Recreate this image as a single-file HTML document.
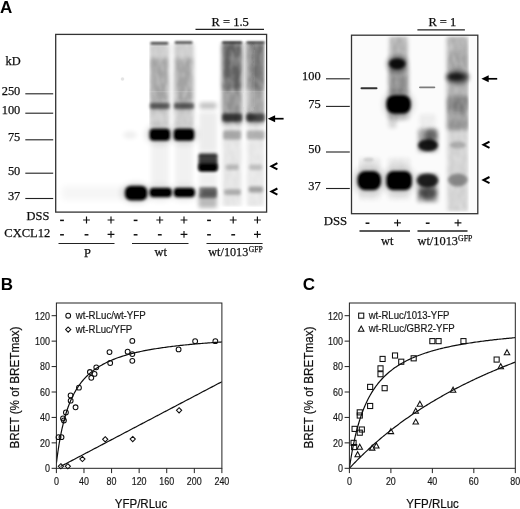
<!DOCTYPE html>
<html><head><meta charset="utf-8"><title>Figure</title>
<style>
html,body{margin:0;padding:0;background:#fff;}
body{width:520px;height:509px;overflow:hidden;}
svg{display:block;}
.se{font-family:"Liberation Serif",serif;font-size:12.4px;fill:#111;stroke:#111;stroke-width:0.25px;}
.sa{font-family:"Liberation Sans",sans-serif;fill:#111;}
.pl{font-family:"Liberation Sans",sans-serif;font-weight:bold;font-size:17px;fill:#000;}
.tk{font-family:"Liberation Sans",sans-serif;font-size:11px;fill:#1a1a1a;stroke:#1a1a1a;stroke-width:0.2px;}
.lg{font-family:"Liberation Sans",sans-serif;font-size:10px;fill:#1a1a1a;stroke:#1a1a1a;stroke-width:0.2px;}
.ax{font-family:"Liberation Sans",sans-serif;font-size:12.2px;fill:#111;stroke:#111;stroke-width:0.2px;}
</style></head><body>
<svg width="520" height="509" viewBox="0 0 520 509">
<defs>
<filter id="b1" x="-50%" y="-50%" width="200%" height="200%"><feGaussianBlur stdDeviation="1.1"/></filter>
<filter id="b2" x="-50%" y="-50%" width="200%" height="200%"><feGaussianBlur stdDeviation="2"/></filter>
<filter id="b3" x="-50%" y="-50%" width="200%" height="200%"><feGaussianBlur stdDeviation="3.2"/></filter>
<filter id="b15" x="-50%" y="-50%" width="200%" height="200%"><feGaussianBlur stdDeviation="1.5"/></filter>
<filter id="nz" x="0" y="0" width="100%" height="100%"><feTurbulence type="fractalNoise" baseFrequency="0.2 0.09" numOctaves="2" seed="7" result="t"/><feColorMatrix in="t" type="matrix" values="0 0 0 0 0  0 0 0 0 0  0 0 0 0 0  0.6 0 0 0 0.62" result="a"/><feGaussianBlur in="a" stdDeviation="0.8" result="ab"/><feComposite in="SourceGraphic" in2="ab" operator="in"/></filter>
<filter id="b05" x="-50%" y="-50%" width="200%" height="200%"><feGaussianBlur stdDeviation="0.6"/></filter>
<filter id="soft" x="-5%" y="-5%" width="110%" height="110%"><feGaussianBlur stdDeviation="0.35"/></filter>
<clipPath id="c1"><rect x="55.7" y="34.4" width="210.8" height="177.9"/></clipPath>
<clipPath id="c2"><rect x="351.5" y="35.2" width="126.3" height="178.5"/></clipPath>
</defs>
<rect width="520" height="509" fill="#fff"/>

<g clip-path="url(#c1)">
<g filter="url(#nz)">
<rect x="149.0" y="43.0" width="20.4" height="84.0" rx="2" fill="#000" opacity="0.2" filter="url(#b2)"/>
<rect x="150.5" y="58.0" width="17.4" height="42.0" rx="2" fill="#000" opacity="0.2" filter="url(#b2)"/>
<rect x="150.0" y="98.0" width="18.4" height="14.0" rx="2" fill="#000" opacity="0.1" filter="url(#b2)"/>
<rect x="173.9" y="43.0" width="20.0" height="84.0" rx="2" fill="#000" opacity="0.2" filter="url(#b2)"/>
<rect x="175.4" y="58.0" width="17.0" height="42.0" rx="2" fill="#000" opacity="0.2" filter="url(#b2)"/>
<rect x="174.9" y="98.0" width="18.0" height="14.0" rx="2" fill="#000" opacity="0.1" filter="url(#b2)"/>
<rect x="222.1" y="41.0" width="20.0" height="83.0" rx="2" fill="#000" opacity="0.43" filter="url(#b2)"/>
<rect x="222.6" y="44.0" width="19.0" height="46.0" rx="2" fill="#000" opacity="0.34" filter="url(#b2)"/>
<rect x="222.6" y="122.0" width="19.0" height="85.0" rx="2" fill="#000" opacity="0.11" filter="url(#b2)"/>
<rect x="246.4" y="41.0" width="18.4" height="83.0" rx="2" fill="#000" opacity="0.3784" filter="url(#b2)"/>
<rect x="246.9" y="44.0" width="17.4" height="46.0" rx="2" fill="#000" opacity="0.2992" filter="url(#b2)"/>
<rect x="246.9" y="122.0" width="17.4" height="85.0" rx="2" fill="#000" opacity="0.0968" filter="url(#b2)"/>
<rect x="246.5" y="45.0" width="5.5" height="65.0" rx="2" fill="#fff" opacity="0.25" filter="url(#b2)"/>
</g>
<rect x="148.0" y="91.0" width="118.0" height="1.3" rx="0" fill="#fff" opacity="0.13" filter="url(#b05)"/>
<rect x="62.0" y="186.0" width="64.0" height="14.0" rx="2" fill="#000" opacity="0.035" filter="url(#b3)"/>
<ellipse cx="122.5" cy="79.0" rx="1.8" ry="1.8" fill="#000" opacity="0.1" filter="url(#b05)"/>
<ellipse cx="130.0" cy="135.0" rx="7.0" ry="4.0" fill="#000" opacity="0.06" filter="url(#b2)"/>
<ellipse cx="136.0" cy="193.0" rx="15.0" ry="10.0" fill="#000" opacity="0.15" filter="url(#b3)"/>
<rect x="124.9" y="185.8" width="22.4" height="14.7" rx="6" fill="#000" opacity="1" filter="url(#b15)"/>
<rect x="127.3" y="188.3" width="17.7" height="9.7" rx="4" fill="#000" opacity="1" filter="url(#b05)"/>
<rect x="150.5" y="41.9" width="17.8" height="2.6" rx="1" fill="#000" opacity="0.7" filter="url(#b1)"/>
<rect x="149.8" y="102.7" width="20.0" height="6.3" rx="2" fill="#000" opacity="0.55" filter="url(#b15)"/>
<rect x="149.5" y="128.5" width="20.6" height="12.3" rx="4" fill="#000" opacity="1" filter="url(#b15)"/>
<rect x="151.5" y="131.0" width="16.6" height="7.5" rx="3" fill="#000" opacity="1" filter="url(#b05)"/>
<ellipse cx="159.8" cy="134.5" rx="14.0" ry="10.0" fill="#000" opacity="0.14" filter="url(#b3)"/>
<rect x="149.5" y="187.8" width="22.4" height="9.5" rx="4" fill="#000" opacity="1" filter="url(#b15)"/>
<rect x="151.5" y="190.0" width="18.1" height="5.3" rx="2.5" fill="#000" opacity="1" filter="url(#b05)"/>
<ellipse cx="159.8" cy="192.5" rx="14.0" ry="8.0" fill="#000" opacity="0.1" filter="url(#b3)"/>
<rect x="150.8" y="142.0" width="18.0" height="44.0" rx="2" fill="#000" opacity="0.05" filter="url(#b2)"/>
<rect x="174.7" y="41.2" width="17.8" height="2.6" rx="1" fill="#000" opacity="0.7" filter="url(#b1)"/>
<rect x="174.0" y="102.7" width="20.0" height="6.3" rx="2" fill="#000" opacity="0.55" filter="url(#b15)"/>
<rect x="173.7" y="128.5" width="20.6" height="12.3" rx="4" fill="#000" opacity="1" filter="url(#b15)"/>
<rect x="175.7" y="131.0" width="16.6" height="7.5" rx="3" fill="#000" opacity="1" filter="url(#b05)"/>
<ellipse cx="184.0" cy="134.5" rx="14.0" ry="10.0" fill="#000" opacity="0.14" filter="url(#b3)"/>
<rect x="173.7" y="187.8" width="21.3" height="9.5" rx="4" fill="#000" opacity="1" filter="url(#b15)"/>
<rect x="175.7" y="190.0" width="17.0" height="5.3" rx="2.5" fill="#000" opacity="1" filter="url(#b05)"/>
<ellipse cx="184.0" cy="192.5" rx="14.0" ry="8.0" fill="#000" opacity="0.1" filter="url(#b3)"/>
<rect x="175.0" y="142.0" width="18.0" height="44.0" rx="2" fill="#000" opacity="0.05" filter="url(#b2)"/>
<rect x="199.5" y="102.5" width="17.0" height="6.5" rx="2" fill="#000" opacity="0.24" filter="url(#b2)"/>
<rect x="198.5" y="153.3" width="19.0" height="17.7" rx="2" fill="#000" opacity="0.72" filter="url(#b15)"/>
<rect x="199.0" y="155.0" width="18.0" height="2.5" rx="2" fill="#000" opacity="0.3" filter="url(#b1)"/>
<rect x="199.0" y="159.5" width="18.0" height="2.0" rx="2" fill="#000" opacity="0.3" filter="url(#b1)"/>
<rect x="198.5" y="163.0" width="19.0" height="8.2" rx="3" fill="#000" opacity="0.9" filter="url(#b15)"/>
<rect x="200.5" y="165.3" width="15.0" height="4.5" rx="2" fill="#000" opacity="0.9" filter="url(#b05)"/>
<rect x="199.0" y="187.0" width="18.0" height="11.0" rx="2" fill="#000" opacity="0.5" filter="url(#b15)"/>
<rect x="202.0" y="189.0" width="15.0" height="6.0" rx="2" fill="#000" opacity="0.25" filter="url(#b15)"/>
<rect x="199.0" y="112.0" width="18.0" height="40.0" rx="2" fill="#000" opacity="0.07" filter="url(#b2)"/>
<rect x="199.0" y="172.0" width="18.0" height="15.0" rx="2" fill="#000" opacity="0.06" filter="url(#b2)"/>
<rect x="198.5" y="194.0" width="18.5" height="14.0" rx="2" fill="#000" opacity="0.27" filter="url(#b2)"/>
<rect x="222.1" y="41.2" width="20.0" height="2.6" rx="1" fill="#000" opacity="0.7" filter="url(#b1)"/>
<rect x="222.1" y="113.5" width="20.0" height="8.0" rx="2" fill="#000" opacity="0.66" filter="url(#b15)"/>
<rect x="223.1" y="130.5" width="18.0" height="9.0" rx="2" fill="#000" opacity="0.27" filter="url(#b15)"/>
<rect x="225.6" y="164.5" width="13.0" height="5.5" rx="2" fill="#000" opacity="0.2" filter="url(#b15)"/>
<rect x="246.4" y="41.2" width="18.4" height="2.6" rx="1" fill="#000" opacity="0.616" filter="url(#b1)"/>
<rect x="246.4" y="113.5" width="18.4" height="8.0" rx="2" fill="#000" opacity="0.5808" filter="url(#b15)"/>
<rect x="246.6" y="130.5" width="18.0" height="9.0" rx="2" fill="#000" opacity="0.2376" filter="url(#b15)"/>
<rect x="249.1" y="164.5" width="13.0" height="5.5" rx="2" fill="#000" opacity="0.17600000000000002" filter="url(#b15)"/>
<rect x="224.0" y="189.3" width="17.0" height="5.7" rx="2" fill="#000" opacity="0.25" filter="url(#b15)"/>
<rect x="248.6" y="186.5" width="14.4" height="6.0" rx="2" fill="#000" opacity="0.3" filter="url(#b15)"/>
<ellipse cx="251.0" cy="117.3" rx="5.0" ry="3.5" fill="#000" opacity="0.3" filter="url(#b15)"/>
</g>
<rect x="55.7" y="34.4" width="210.9" height="177.7" fill="none" stroke="#333" stroke-width="1.3"/>
<g filter="url(#soft)">
<text class="pl" x="0" y="12.5">A</text>
<text class="se" x="5.5" y="65">kD</text>
<text class="se" x="20.3" y="95" text-anchor="end">250</text>
<line x1="25.3" x2="53.2" y1="93.8" y2="93.8" stroke="#222" stroke-width="1.1"/>
<text class="se" x="20.3" y="113.6" text-anchor="end">100</text>
<line x1="25.3" x2="53.2" y1="113.2" y2="113.2" stroke="#222" stroke-width="1.1"/>
<text class="se" x="20.3" y="140.6" text-anchor="end">75</text>
<line x1="25.3" x2="53.2" y1="139.8" y2="139.8" stroke="#222" stroke-width="1.1"/>
<text class="se" x="20.3" y="174.5" text-anchor="end">50</text>
<line x1="25.3" x2="53.2" y1="173.2" y2="173.2" stroke="#222" stroke-width="1.1"/>
<text class="se" x="20.3" y="199.7" text-anchor="end">37</text>
<line x1="25.3" x2="53.2" y1="198.5" y2="198.5" stroke="#222" stroke-width="1.1"/>
<text class="se" x="49.3" y="220.2" text-anchor="end">DSS</text>
<text class="se" x="4.3" y="236.9" textLength="46" lengthAdjust="spacingAndGlyphs">CXCL12</text>
<line x1="60.1" x2="63.9" y1="220.4" y2="220.4" stroke="#111" stroke-width="1.5"/>
<line x1="60.1" x2="63.9" y1="234.8" y2="234.8" stroke="#111" stroke-width="1.5"/>
<path d="M83.1 220.0H89.9M86.5 216.6V223.4" stroke="#111" stroke-width="1.15" fill="none"/>
<line x1="84.6" x2="88.4" y1="234.8" y2="234.8" stroke="#111" stroke-width="1.5"/>
<path d="M107.6 220.0H114.4M111 216.6V223.4" stroke="#111" stroke-width="1.15" fill="none"/>
<path d="M107.6 234.4H114.4M111 231.0V237.8" stroke="#111" stroke-width="1.15" fill="none"/>
<line x1="133.7" x2="137.5" y1="220.4" y2="220.4" stroke="#111" stroke-width="1.5"/>
<line x1="133.7" x2="137.5" y1="234.8" y2="234.8" stroke="#111" stroke-width="1.5"/>
<path d="M156.4 220.0H163.20000000000002M159.8 216.6V223.4" stroke="#111" stroke-width="1.15" fill="none"/>
<line x1="157.9" x2="161.70000000000002" y1="234.8" y2="234.8" stroke="#111" stroke-width="1.5"/>
<path d="M180.6 220.0H187.4M184 216.6V223.4" stroke="#111" stroke-width="1.15" fill="none"/>
<path d="M180.6 234.4H187.4M184 231.0V237.8" stroke="#111" stroke-width="1.15" fill="none"/>
<line x1="207.1" x2="210.9" y1="220.4" y2="220.4" stroke="#111" stroke-width="1.5"/>
<line x1="207.1" x2="210.9" y1="234.8" y2="234.8" stroke="#111" stroke-width="1.5"/>
<path d="M229.79999999999998 220.0H236.6M233.2 216.6V223.4" stroke="#111" stroke-width="1.15" fill="none"/>
<line x1="231.29999999999998" x2="235.1" y1="234.8" y2="234.8" stroke="#111" stroke-width="1.5"/>
<path d="M253.99999999999997 220.0H260.79999999999995M257.4 216.6V223.4" stroke="#111" stroke-width="1.15" fill="none"/>
<path d="M253.99999999999997 234.4H260.79999999999995M257.4 231.0V237.8" stroke="#111" stroke-width="1.15" fill="none"/>
<line x1="58.5" x2="114.5" y1="243.5" y2="243.5" stroke="#222" stroke-width="1"/>
<line x1="132" x2="188.5" y1="243.5" y2="243.5" stroke="#222" stroke-width="1"/>
<line x1="206.5" x2="262.6" y1="243.5" y2="243.5" stroke="#222" stroke-width="1"/>
<text class="se" x="87.4" y="256.6" text-anchor="middle">P</text>
<text class="se" x="160.8" y="256.4" text-anchor="middle">wt</text>
<text class="se" x="208.3" y="256.3" textLength="40" lengthAdjust="spacingAndGlyphs">wt/1013</text><text class="se" x="248.8" y="252" style="font-size:7.6px">GFP</text>
<text class="se" x="211.5" y="25.5" style="font-size:12.5px">R = 1.5</text>
<line x1="195.5" x2="264" y1="29.4" y2="29.4" stroke="#222" stroke-width="1.2"/>
<path d="M267.8 118.7L275.1 115.2L275.1 122.2Z" fill="#000"/>
<line x1="273.8" x2="283.6" y1="118.7" y2="118.7" stroke="#000" stroke-width="1.7"/>
<path d="M277.40000000000003 163.20000000000002L271.40000000000003 166.3L277.40000000000003 169.4" fill="none" stroke="#000" stroke-width="2" stroke-linejoin="miter"/>
<path d="M277.40000000000003 188.5L271.40000000000003 191.6L277.40000000000003 194.7" fill="none" stroke="#000" stroke-width="2" stroke-linejoin="miter"/>
</g>
<g clip-path="url(#c2)">
<rect x="351" y="35" width="127" height="179" fill="#fbfbfb"/>
<g filter="url(#nz)">
<rect x="389.5" y="36.0" width="18.0" height="59.0" rx="2" fill="#000" opacity="0.3" filter="url(#b2)"/>
<rect x="388.0" y="68.0" width="21.0" height="52.0" rx="2" fill="#000" opacity="0.2" filter="url(#b2)"/>
<rect x="388.5" y="112.0" width="8.0" height="16.0" rx="2" fill="#000" opacity="0.15" filter="url(#b2)"/>
<rect x="446.8" y="36.0" width="22.0" height="94.0" rx="2" fill="#000" opacity="0.3" filter="url(#b2)"/>
<rect x="448.8" y="50.0" width="18.0" height="20.0" rx="2" fill="#000" opacity="0.08" filter="url(#b2)"/>
<rect x="447.3" y="96.5" width="21.0" height="14.5" rx="2" fill="#000" opacity="0.3" filter="url(#b2)"/>
<rect x="447.3" y="110.0" width="21.0" height="102.0" rx="2" fill="#000" opacity="0.17" filter="url(#b2)"/>
<rect x="418.0" y="129.0" width="19.5" height="23.0" rx="2" fill="#000" opacity="0.36" filter="url(#b2)"/>
<rect x="427.5" y="128.0" width="10.0" height="18.0" rx="2" fill="#000" opacity="0.15" filter="url(#b2)"/>
<rect x="417.5" y="174.0" width="20.0" height="28.0" rx="2" fill="#000" opacity="0.4" filter="url(#b2)"/>
<rect x="419.5" y="114.0" width="16.0" height="16.0" rx="2" fill="#000" opacity="0.06" filter="url(#b2)"/>
<rect x="358.2" y="158.0" width="22.0" height="14.0" rx="2" fill="#000" opacity="0.08" filter="url(#b2)"/>
<rect x="358.2" y="190.0" width="22.0" height="10.0" rx="2" fill="#000" opacity="0.06" filter="url(#b2)"/>
<rect x="388.1" y="158.0" width="22.0" height="14.0" rx="2" fill="#000" opacity="0.08" filter="url(#b2)"/>
<rect x="388.1" y="190.0" width="22.0" height="10.0" rx="2" fill="#000" opacity="0.06" filter="url(#b2)"/>
</g>
<rect x="357.4" y="171.0" width="23.6" height="19.3" rx="8" fill="#000" opacity="1" filter="url(#b15)"/>
<rect x="359.7" y="173.5" width="19.0" height="14.3" rx="6" fill="#000" opacity="1" filter="url(#b05)"/>
<ellipse cx="369.2" cy="180.6" rx="17.0" ry="15.0" fill="#000" opacity="0.13" filter="url(#b3)"/>
<rect x="360.5" y="87.3" width="17.0" height="2.0" rx="1" fill="#000" opacity="0.8" filter="url(#b05)"/>
<ellipse cx="368.5" cy="159.5" rx="5.0" ry="2.0" fill="#000" opacity="0.12" filter="url(#b1)"/>
<ellipse cx="397.2" cy="63.8" rx="8.3" ry="5.6" fill="#000" opacity="0.9" filter="url(#b15)"/>
<ellipse cx="397.2" cy="64.0" rx="11.0" ry="9.5" fill="#000" opacity="0.3" filter="url(#b2)"/>
<rect x="386.3" y="95.0" width="24.5" height="18.8" rx="8" fill="#000" opacity="1" filter="url(#b15)"/>
<rect x="388.6" y="97.5" width="19.8" height="13.8" rx="6" fill="#000" opacity="1" filter="url(#b05)"/>
<ellipse cx="398.6" cy="104.3" rx="15.0" ry="14.0" fill="#000" opacity="0.18" filter="url(#b3)"/>
<rect x="386.3" y="171.0" width="25.6" height="19.3" rx="7" fill="#000" opacity="1" filter="url(#b15)"/>
<rect x="388.6" y="173.5" width="21.0" height="14.3" rx="5" fill="#000" opacity="1" filter="url(#b05)"/>
<ellipse cx="399.1" cy="180.6" rx="17.0" ry="15.0" fill="#000" opacity="0.13" filter="url(#b3)"/>
<rect x="419.0" y="86.5" width="16.3" height="1.7" rx="1" fill="#000" opacity="0.5" filter="url(#b05)"/>
<ellipse cx="428.0" cy="145.3" rx="10.0" ry="6.0" fill="#000" opacity="0.88" filter="url(#b15)"/>
<ellipse cx="430.5" cy="136.0" rx="6.5" ry="6.0" fill="#000" opacity="0.35" filter="url(#b2)"/>
<ellipse cx="427.5" cy="180.5" rx="10.8" ry="7.0" fill="#000" opacity="0.82" filter="url(#b15)"/>
<ellipse cx="428.0" cy="193.0" rx="9.0" ry="6.0" fill="#000" opacity="0.55" filter="url(#b2)"/>
<ellipse cx="457.3" cy="77.0" rx="11.0" ry="5.2" fill="#000" opacity="0.62" filter="url(#b2)"/>
<ellipse cx="455.8" cy="76.6" rx="7.0" ry="3.0" fill="#000" opacity="0.5" filter="url(#b15)"/>
<ellipse cx="457.8" cy="77.0" rx="12.0" ry="9.0" fill="#000" opacity="0.2" filter="url(#b2)"/>
<ellipse cx="457.8" cy="145.0" rx="8.0" ry="3.5" fill="#000" opacity="0.2" filter="url(#b15)"/>
<ellipse cx="457.8" cy="180.0" rx="10.0" ry="6.5" fill="#000" opacity="0.36" filter="url(#b15)"/>
</g>
<rect x="351.5" y="35.2" width="126.3" height="178.5" fill="none" stroke="#333" stroke-width="1.3"/>
<g filter="url(#soft)">
<text class="se" x="320.6" y="79.6" text-anchor="end">100</text>
<line x1="326" x2="349.8" y1="78.8" y2="78.8" stroke="#222" stroke-width="1.1"/>
<text class="se" x="320.6" y="107.6" text-anchor="end">75</text>
<line x1="326" x2="349.8" y1="106.4" y2="106.4" stroke="#222" stroke-width="1.1"/>
<text class="se" x="320.6" y="152.9" text-anchor="end">50</text>
<line x1="326" x2="349.8" y1="152" y2="152" stroke="#222" stroke-width="1.1"/>
<text class="se" x="320.6" y="189.5" text-anchor="end">37</text>
<line x1="326" x2="349.8" y1="188.5" y2="188.5" stroke="#222" stroke-width="1.1"/>
<text class="se" x="347.2" y="225" text-anchor="end" style="font-size:12.8px">DSS</text>
<line x1="365.6" x2="369.4" y1="223.20000000000002" y2="223.20000000000002" stroke="#111" stroke-width="1.5"/>
<path d="M394.1 222.8H400.9M397.5 219.4V226.20000000000002" stroke="#111" stroke-width="1.15" fill="none"/>
<line x1="425.8" x2="429.59999999999997" y1="223.20000000000002" y2="223.20000000000002" stroke="#111" stroke-width="1.5"/>
<path d="M454.6 222.8H461.4M458 219.4V226.20000000000002" stroke="#111" stroke-width="1.15" fill="none"/>
<line x1="359.5" x2="410" y1="231" y2="231" stroke="#222" stroke-width="1.3"/>
<line x1="417.5" x2="467.5" y1="231" y2="231" stroke="#222" stroke-width="1.3"/>
<text class="se" x="387.2" y="245" text-anchor="middle">wt</text>
<text class="se" x="417.5" y="245" textLength="40.5" lengthAdjust="spacingAndGlyphs">wt/1013</text><text class="se" x="458" y="240.6" style="font-size:7.8px">GFP</text>
<text class="se" x="428.4" y="26" style="font-size:12.5px">R = 1</text>
<line x1="417.4" x2="464.9" y1="29.8" y2="29.8" stroke="#222" stroke-width="1.2"/>
<path d="M481.4 78.8L488.7 75.3L488.7 82.3Z" fill="#000"/>
<line x1="487.4" x2="497.2" y1="78.8" y2="78.8" stroke="#000" stroke-width="1.7"/>
<path d="M489.5 141.70000000000002L483.5 144.8L489.5 147.9" fill="none" stroke="#000" stroke-width="2" stroke-linejoin="miter"/>
<path d="M489.5 177.0L483.5 180.1L489.5 183.2" fill="none" stroke="#000" stroke-width="2" stroke-linejoin="miter"/>
</g>
<g filter="url(#soft)">
<text class="pl" x="0.7" y="289.7">B</text>
<clipPath id="ccB"><rect x="56.4" y="303" width="165.5" height="165.3"/></clipPath>
<path d="M56.40 463.21L57.78 452.70L59.16 443.72L60.54 435.97L61.92 429.22L63.30 423.27L64.67 418.00L66.05 413.29L67.43 409.06L68.81 405.24L70.19 401.77L71.57 398.61L72.95 395.72L74.33 393.06L75.71 390.61L77.09 388.34L78.47 386.24L79.85 384.29L81.22 382.46L82.60 380.76L83.98 379.16L85.36 377.66L86.74 376.25L88.12 374.92L89.50 373.67L90.88 372.48L92.26 371.36L93.64 370.29L95.02 369.28L96.40 368.32L97.78 367.40L99.15 366.53L100.53 365.70L101.91 364.90L103.29 364.14L104.67 363.42L106.05 362.72L107.43 362.05L108.81 361.41L110.19 360.79L111.57 360.20L112.95 359.63L114.32 359.08L115.70 358.55L117.08 358.04L118.46 357.55L119.84 357.08L121.22 356.62L122.60 356.18L123.98 355.75L125.36 355.33L126.74 354.93L128.12 354.54L129.50 354.17L130.88 353.80L132.25 353.45L133.63 353.10L135.01 352.77L136.39 352.45L137.77 352.13L139.15 351.82L140.53 351.53L141.91 351.24L143.29 350.96L144.67 350.68L146.05 350.41L147.43 350.15L148.80 349.90L150.18 349.65L151.56 349.41L152.94 349.18L154.32 348.95L155.70 348.72L157.08 348.50L158.46 348.29L159.84 348.08L161.22 347.88L162.60 347.68L163.97 347.48L165.35 347.29L166.73 347.11L168.11 346.92L169.49 346.74L170.87 346.57L172.25 346.40L173.63 346.23L175.01 346.07L176.39 345.91L177.77 345.75L179.15 345.59L180.53 345.44L181.90 345.29L183.28 345.15L184.66 345.00L186.04 344.86L187.42 344.73L188.80 344.59L190.18 344.46L191.56 344.33L192.94 344.20L194.32 344.08L195.70 343.95L197.08 343.83L198.45 343.71L199.83 343.60L201.21 343.48L202.59 343.37L203.97 343.26L205.35 343.15L206.73 343.04L208.11 342.94L209.49 342.83L210.87 342.73L212.25 342.63L213.62 342.53L215.00 342.43L216.38 342.34L217.76 342.24L219.14 342.15L220.52 342.06L221.90 341.97" fill="none" stroke="#111" stroke-width="1.2" clip-path="url(#ccB)"/>
<path d="M60.54 466.51L61.88 465.80L63.23 465.09L64.57 464.39L65.92 463.68L67.26 462.97L68.61 462.27L69.95 461.56L71.30 460.85L72.64 460.15L73.98 459.44L75.33 458.73L76.67 458.03L78.02 457.32L79.36 456.61L80.71 455.91L82.05 455.20L83.40 454.49L84.74 453.79L86.09 453.08L87.43 452.37L88.78 451.67L90.12 450.96L91.47 450.25L92.81 449.55L94.15 448.84L95.50 448.13L96.84 447.43L98.19 446.72L99.53 446.01L100.88 445.31L102.22 444.60L103.57 443.89L104.91 443.18L106.26 442.48L107.60 441.77L108.95 441.06L110.29 440.36L111.64 439.65L112.98 438.94L114.32 438.24L115.67 437.53L117.01 436.82L118.36 436.12L119.70 435.41L121.05 434.70L122.39 434.00L123.74 433.29L125.08 432.58L126.43 431.88L127.77 431.17L129.12 430.46L130.46 429.76L131.81 429.05L133.15 428.34L134.50 427.64L135.84 426.93L137.18 426.22L138.53 425.52L139.87 424.81L141.22 424.10L142.56 423.40L143.91 422.69L145.25 421.98L146.60 421.28L147.94 420.57L149.29 419.86L150.63 419.16L151.98 418.45L153.32 417.74L154.67 417.04L156.01 416.33L157.35 415.62L158.70 414.92L160.04 414.21L161.39 413.50L162.73 412.80L164.08 412.09L165.42 411.38L166.77 410.68L168.11 409.97L169.46 409.26L170.80 408.56L172.15 407.85L173.49 407.14L174.84 406.44L176.18 405.73L177.53 405.02L178.87 404.31L180.21 403.61L181.56 402.90L182.90 402.19L184.25 401.49L185.59 400.78L186.94 400.07L188.28 399.37L189.63 398.66L190.97 397.95L192.32 397.25L193.66 396.54L195.01 395.83L196.35 395.13L197.70 394.42L199.04 393.71L200.39 393.01L201.73 392.30L203.07 391.59L204.42 390.89L205.76 390.18L207.11 389.47L208.45 388.77L209.80 388.06L211.14 387.35L212.49 386.65L213.83 385.94L215.18 385.23L216.52 384.53L217.87 383.82L219.21 383.11L220.56 382.41L221.90 381.70" fill="none" stroke="#111" stroke-width="1.2" clip-path="url(#ccB)"/>
<rect x="56.4" y="303" width="165.5" height="165.3" fill="none" stroke="#222" stroke-width="1"/>
<line x1="51.6" x2="56.4" y1="468.30" y2="468.30" stroke="#222" stroke-width="1"/>
<text class="tk" x="49.9" y="472.20" text-anchor="end" textLength="5.0" lengthAdjust="spacingAndGlyphs">0</text>
<line x1="51.6" x2="56.4" y1="442.87" y2="442.87" stroke="#222" stroke-width="1"/>
<text class="tk" x="49.9" y="446.77" text-anchor="end" textLength="9.9" lengthAdjust="spacingAndGlyphs">20</text>
<line x1="51.6" x2="56.4" y1="417.43" y2="417.43" stroke="#222" stroke-width="1"/>
<text class="tk" x="49.9" y="421.33" text-anchor="end" textLength="9.9" lengthAdjust="spacingAndGlyphs">40</text>
<line x1="51.6" x2="56.4" y1="392.00" y2="392.00" stroke="#222" stroke-width="1"/>
<text class="tk" x="49.9" y="395.90" text-anchor="end" textLength="9.9" lengthAdjust="spacingAndGlyphs">60</text>
<line x1="51.6" x2="56.4" y1="366.57" y2="366.57" stroke="#222" stroke-width="1"/>
<text class="tk" x="49.9" y="370.47" text-anchor="end" textLength="9.9" lengthAdjust="spacingAndGlyphs">80</text>
<line x1="51.6" x2="56.4" y1="341.13" y2="341.13" stroke="#222" stroke-width="1"/>
<text class="tk" x="49.9" y="345.03" text-anchor="end" textLength="14.9" lengthAdjust="spacingAndGlyphs">100</text>
<line x1="51.6" x2="56.4" y1="315.70" y2="315.70" stroke="#222" stroke-width="1"/>
<text class="tk" x="49.9" y="319.60" text-anchor="end" textLength="14.9" lengthAdjust="spacingAndGlyphs">120</text>
<line x1="56.40" x2="56.40" y1="468.3" y2="473.1" stroke="#222" stroke-width="1"/>
<text class="tk" x="56.40" y="485.3" text-anchor="middle" textLength="5.0" lengthAdjust="spacingAndGlyphs">0</text>
<line x1="83.98" x2="83.98" y1="468.3" y2="473.1" stroke="#222" stroke-width="1"/>
<text class="tk" x="83.98" y="485.3" text-anchor="middle" textLength="9.9" lengthAdjust="spacingAndGlyphs">40</text>
<line x1="111.57" x2="111.57" y1="468.3" y2="473.1" stroke="#222" stroke-width="1"/>
<text class="tk" x="111.57" y="485.3" text-anchor="middle" textLength="9.9" lengthAdjust="spacingAndGlyphs">80</text>
<line x1="139.15" x2="139.15" y1="468.3" y2="473.1" stroke="#222" stroke-width="1"/>
<text class="tk" x="139.15" y="485.3" text-anchor="middle" textLength="14.9" lengthAdjust="spacingAndGlyphs">120</text>
<line x1="166.73" x2="166.73" y1="468.3" y2="473.1" stroke="#222" stroke-width="1"/>
<text class="tk" x="166.73" y="485.3" text-anchor="middle" textLength="14.9" lengthAdjust="spacingAndGlyphs">160</text>
<line x1="194.32" x2="194.32" y1="468.3" y2="473.1" stroke="#222" stroke-width="1"/>
<text class="tk" x="194.32" y="485.3" text-anchor="middle" textLength="14.9" lengthAdjust="spacingAndGlyphs">200</text>
<line x1="221.90" x2="221.90" y1="468.3" y2="473.1" stroke="#222" stroke-width="1"/>
<text class="tk" x="221.90" y="485.3" text-anchor="middle" textLength="14.9" lengthAdjust="spacingAndGlyphs">240</text>
<path d="M60.88 463.67L63.48 466.27L60.88 468.87L58.28 466.27Z" fill="none" stroke="#111" stroke-width="1.05"/>
<path d="M67.85 463.67L70.45 466.27L67.85 468.87L65.25 466.27Z" fill="none" stroke="#111" stroke-width="1.05"/>
<path d="M82.40 456.42L85.00 459.02L82.40 461.62L79.80 459.02Z" fill="none" stroke="#111" stroke-width="1.05"/>
<path d="M105.22 436.71L107.82 439.31L105.22 441.91L102.62 439.31Z" fill="none" stroke="#111" stroke-width="1.05"/>
<path d="M132.74 436.45L135.34 439.05L132.74 441.65L130.14 439.05Z" fill="none" stroke="#111" stroke-width="1.05"/>
<path d="M179.08 407.71L181.68 410.31L179.08 412.91L176.48 410.31Z" fill="none" stroke="#111" stroke-width="1.05"/>
<circle cx="58.54" cy="437.14" r="2.4" fill="none" stroke="#111" stroke-width="1.05"/>
<circle cx="61.50" cy="437.14" r="2.4" fill="none" stroke="#111" stroke-width="1.05"/>
<circle cx="63.02" cy="418.45" r="2.4" fill="none" stroke="#111" stroke-width="1.05"/>
<circle cx="63.92" cy="420.49" r="2.4" fill="none" stroke="#111" stroke-width="1.05"/>
<circle cx="65.92" cy="412.47" r="2.4" fill="none" stroke="#111" stroke-width="1.05"/>
<circle cx="70.61" cy="395.43" r="2.4" fill="none" stroke="#111" stroke-width="1.05"/>
<circle cx="70.67" cy="400.65" r="2.4" fill="none" stroke="#111" stroke-width="1.05"/>
<circle cx="75.57" cy="407.26" r="2.4" fill="none" stroke="#111" stroke-width="1.05"/>
<circle cx="78.95" cy="387.68" r="2.4" fill="none" stroke="#111" stroke-width="1.05"/>
<circle cx="89.91" cy="372.03" r="2.4" fill="none" stroke="#111" stroke-width="1.05"/>
<circle cx="91.29" cy="377.76" r="2.4" fill="none" stroke="#111" stroke-width="1.05"/>
<circle cx="94.53" cy="373.94" r="2.4" fill="none" stroke="#111" stroke-width="1.05"/>
<circle cx="96.26" cy="367.33" r="2.4" fill="none" stroke="#111" stroke-width="1.05"/>
<circle cx="109.50" cy="352.07" r="2.4" fill="none" stroke="#111" stroke-width="1.05"/>
<circle cx="110.19" cy="363.01" r="2.4" fill="none" stroke="#111" stroke-width="1.05"/>
<circle cx="127.63" cy="351.69" r="2.4" fill="none" stroke="#111" stroke-width="1.05"/>
<circle cx="132.32" cy="340.88" r="2.4" fill="none" stroke="#111" stroke-width="1.05"/>
<circle cx="132.32" cy="354.10" r="2.4" fill="none" stroke="#111" stroke-width="1.05"/>
<circle cx="132.32" cy="360.84" r="2.4" fill="none" stroke="#111" stroke-width="1.05"/>
<circle cx="178.59" cy="349.40" r="2.4" fill="none" stroke="#111" stroke-width="1.05"/>
<circle cx="195.14" cy="341.13" r="2.4" fill="none" stroke="#111" stroke-width="1.05"/>
<circle cx="215.35" cy="341.13" r="2.4" fill="none" stroke="#111" stroke-width="1.05"/>
<circle cx="68.20" cy="315.70" r="2.4" fill="none" stroke="#111" stroke-width="1.05"/>
<path d="M68.20 327.00L70.80 329.60L68.20 332.20L65.60 329.60Z" fill="none" stroke="#111" stroke-width="1.05"/>
<text class="lg" x="75.7" y="319.00" textLength="70" lengthAdjust="spacingAndGlyphs">wt-RLuc/wt-YFP</text>
<text class="lg" x="75.7" y="332.80" textLength="56.5" lengthAdjust="spacingAndGlyphs">wt-RLuc/YFP</text>
<text class="ax" x="141" y="507.7" text-anchor="middle" textLength="52.5" lengthAdjust="spacingAndGlyphs">YFP/RLuc</text>
<text class="ax" transform="translate(19.0,387.6) rotate(-90)" text-anchor="middle" textLength="122" lengthAdjust="spacingAndGlyphs">BRET (% of BRETmax)</text>
</g>
<g filter="url(#soft)">
<text class="pl" x="302.7" y="289.7">C</text>
<clipPath id="ccC"><rect x="349.4" y="303" width="165.89999999999998" height="165.3"/></clipPath>
<path d="M349.40 468.30L350.78 459.24L352.16 451.23L353.55 444.10L354.93 437.71L356.31 431.95L357.69 426.73L359.08 421.98L360.46 417.64L361.84 413.66L363.22 409.99L364.61 406.60L365.99 403.46L367.37 400.55L368.75 397.83L370.14 395.29L371.52 392.92L372.90 390.69L374.28 388.59L375.67 386.62L377.05 384.76L378.43 383.00L379.81 381.34L381.20 379.76L382.58 378.27L383.96 376.85L385.34 375.49L386.73 374.20L388.11 372.98L389.49 371.80L390.88 370.68L392.26 369.61L393.64 368.58L395.02 367.59L396.40 366.65L397.79 365.74L399.17 364.87L400.55 364.03L401.93 363.22L403.32 362.45L404.70 361.70L406.08 360.97L407.46 360.28L408.85 359.60L410.23 358.95L411.61 358.32L412.99 357.71L414.38 357.13L415.76 356.55L417.14 356.00L418.52 355.47L419.91 354.95L421.29 354.44L422.67 353.95L424.05 353.48L425.44 353.02L426.82 352.57L428.20 352.13L429.58 351.71L430.97 351.29L432.35 350.89L433.73 350.50L435.11 350.12L436.50 349.75L437.88 349.39L439.26 349.03L440.64 348.69L442.03 348.35L443.41 348.02L444.79 347.70L446.17 347.39L447.56 347.09L448.94 346.79L450.32 346.49L451.70 346.21L453.09 345.93L454.47 345.66L455.85 345.39L457.23 345.13L458.62 344.87L460.00 344.62L461.38 344.38L462.76 344.14L464.15 343.90L465.53 343.67L466.91 343.45L468.29 343.23L469.68 343.01L471.06 342.80L472.44 342.59L473.82 342.38L475.21 342.18L476.59 341.99L477.97 341.79L479.35 341.60L480.74 341.42L482.12 341.23L483.50 341.05L484.88 340.88L486.27 340.70L487.65 340.53L489.03 340.36L490.41 340.20L491.80 340.04L493.18 339.88L494.56 339.72L495.94 339.57L497.33 339.42L498.71 339.27L500.09 339.12L501.47 338.98L502.86 338.83L504.24 338.69L505.62 338.56L507.00 338.42L508.39 338.29L509.77 338.16L511.15 338.03L512.53 337.90L513.92 337.77L515.30 337.65" fill="none" stroke="#111" stroke-width="1.2" clip-path="url(#ccC)"/>
<path d="M349.40 468.30L350.78 466.82L352.16 465.36L353.55 463.92L354.93 462.49L356.31 461.08L357.69 459.68L359.08 458.30L360.46 456.93L361.84 455.58L363.22 454.24L364.61 452.92L365.99 451.61L367.37 450.32L368.75 449.03L370.14 447.76L371.52 446.51L372.90 445.27L374.28 444.04L375.67 442.82L377.05 441.61L378.43 440.42L379.81 439.24L381.20 438.07L382.58 436.91L383.96 435.77L385.34 434.63L386.73 433.51L388.11 432.40L389.49 431.30L390.88 430.21L392.26 429.12L393.64 428.05L395.02 426.99L396.40 425.94L397.79 424.90L399.17 423.87L400.55 422.85L401.93 421.84L403.32 420.84L404.70 419.85L406.08 418.86L407.46 417.89L408.85 416.92L410.23 415.97L411.61 415.02L412.99 414.08L414.38 413.15L415.76 412.22L417.14 411.31L418.52 410.40L419.91 409.50L421.29 408.61L422.67 407.73L424.05 406.85L425.44 405.99L426.82 405.12L428.20 404.27L429.58 403.43L430.97 402.59L432.35 401.75L433.73 400.93L435.11 400.11L436.50 399.30L437.88 398.50L439.26 397.70L440.64 396.91L442.03 396.12L443.41 395.34L444.79 394.57L446.17 393.81L447.56 393.05L448.94 392.29L450.32 391.55L451.70 390.81L453.09 390.07L454.47 389.34L455.85 388.62L457.23 387.90L458.62 387.19L460.00 386.48L461.38 385.78L462.76 385.08L464.15 384.39L465.53 383.70L466.91 383.02L468.29 382.35L469.68 381.68L471.06 381.01L472.44 380.35L473.82 379.70L475.21 379.05L476.59 378.40L477.97 377.76L479.35 377.13L480.74 376.49L482.12 375.87L483.50 375.25L484.88 374.63L486.27 374.02L487.65 373.41L489.03 372.80L490.41 372.20L491.80 371.61L493.18 371.02L494.56 370.43L495.94 369.85L497.33 369.27L498.71 368.69L500.09 368.12L501.47 367.55L502.86 366.99L504.24 366.43L505.62 365.88L507.00 365.33L508.39 364.78L509.77 364.24L511.15 363.70L512.53 363.16L513.92 362.63L515.30 362.10" fill="none" stroke="#111" stroke-width="1.2" clip-path="url(#ccC)"/>
<rect x="349.4" y="303" width="165.89999999999998" height="165.3" fill="none" stroke="#222" stroke-width="1"/>
<line x1="344.59999999999997" x2="349.4" y1="468.30" y2="468.30" stroke="#222" stroke-width="1"/>
<text class="tk" x="342.9" y="472.20" text-anchor="end" textLength="5.0" lengthAdjust="spacingAndGlyphs">0</text>
<line x1="344.59999999999997" x2="349.4" y1="442.87" y2="442.87" stroke="#222" stroke-width="1"/>
<text class="tk" x="342.9" y="446.77" text-anchor="end" textLength="9.9" lengthAdjust="spacingAndGlyphs">20</text>
<line x1="344.59999999999997" x2="349.4" y1="417.43" y2="417.43" stroke="#222" stroke-width="1"/>
<text class="tk" x="342.9" y="421.33" text-anchor="end" textLength="9.9" lengthAdjust="spacingAndGlyphs">40</text>
<line x1="344.59999999999997" x2="349.4" y1="392.00" y2="392.00" stroke="#222" stroke-width="1"/>
<text class="tk" x="342.9" y="395.90" text-anchor="end" textLength="9.9" lengthAdjust="spacingAndGlyphs">60</text>
<line x1="344.59999999999997" x2="349.4" y1="366.57" y2="366.57" stroke="#222" stroke-width="1"/>
<text class="tk" x="342.9" y="370.47" text-anchor="end" textLength="9.9" lengthAdjust="spacingAndGlyphs">80</text>
<line x1="344.59999999999997" x2="349.4" y1="341.13" y2="341.13" stroke="#222" stroke-width="1"/>
<text class="tk" x="342.9" y="345.03" text-anchor="end" textLength="14.9" lengthAdjust="spacingAndGlyphs">100</text>
<line x1="344.59999999999997" x2="349.4" y1="315.70" y2="315.70" stroke="#222" stroke-width="1"/>
<text class="tk" x="342.9" y="319.60" text-anchor="end" textLength="14.9" lengthAdjust="spacingAndGlyphs">120</text>
<line x1="349.40" x2="349.40" y1="468.3" y2="473.1" stroke="#222" stroke-width="1"/>
<text class="tk" x="349.40" y="485.3" text-anchor="middle" textLength="5.0" lengthAdjust="spacingAndGlyphs">0</text>
<line x1="390.88" x2="390.88" y1="468.3" y2="473.1" stroke="#222" stroke-width="1"/>
<text class="tk" x="390.88" y="485.3" text-anchor="middle" textLength="9.9" lengthAdjust="spacingAndGlyphs">20</text>
<line x1="432.35" x2="432.35" y1="468.3" y2="473.1" stroke="#222" stroke-width="1"/>
<text class="tk" x="432.35" y="485.3" text-anchor="middle" textLength="9.9" lengthAdjust="spacingAndGlyphs">40</text>
<line x1="473.82" x2="473.82" y1="468.3" y2="473.1" stroke="#222" stroke-width="1"/>
<text class="tk" x="473.82" y="485.3" text-anchor="middle" textLength="9.9" lengthAdjust="spacingAndGlyphs">60</text>
<line x1="515.30" x2="515.30" y1="468.3" y2="473.1" stroke="#222" stroke-width="1"/>
<text class="tk" x="515.30" y="485.3" text-anchor="middle" textLength="9.9" lengthAdjust="spacingAndGlyphs">80</text>
<path d="M357.69 451.67L360.45 456.74L354.94 456.74Z" fill="none" stroke="#111" stroke-width="1.05"/>
<path d="M359.77 444.16L362.52 449.24L357.01 449.24Z" fill="none" stroke="#111" stroke-width="1.05"/>
<path d="M372.21 445.05L374.97 450.13L369.46 450.13Z" fill="none" stroke="#111" stroke-width="1.05"/>
<path d="M376.36 442.89L379.11 447.97L373.60 447.97Z" fill="none" stroke="#111" stroke-width="1.05"/>
<path d="M390.88 428.52L393.63 433.60L388.12 433.60Z" fill="none" stroke="#111" stroke-width="1.05"/>
<path d="M415.76 418.98L418.51 424.06L413.00 424.06Z" fill="none" stroke="#111" stroke-width="1.05"/>
<path d="M415.76 408.18L418.51 413.25L413.00 413.25Z" fill="none" stroke="#111" stroke-width="1.05"/>
<path d="M419.91 401.18L422.66 406.26L417.15 406.26Z" fill="none" stroke="#111" stroke-width="1.05"/>
<path d="M453.09 387.19L455.84 392.27L450.33 392.27Z" fill="none" stroke="#111" stroke-width="1.05"/>
<path d="M500.78 363.67L503.54 368.74L498.03 368.74Z" fill="none" stroke="#111" stroke-width="1.05"/>
<path d="M507.00 349.68L509.76 354.75L504.25 354.75Z" fill="none" stroke="#111" stroke-width="1.05"/>
<rect x="351.00" y="440.32" width="5.1" height="5.1" fill="none" stroke="#111" stroke-width="1.05"/>
<rect x="351.62" y="444.51" width="5.1" height="5.1" fill="none" stroke="#111" stroke-width="1.05"/>
<rect x="352.03" y="426.33" width="5.1" height="5.1" fill="none" stroke="#111" stroke-width="1.05"/>
<rect x="357.22" y="409.80" width="5.1" height="5.1" fill="none" stroke="#111" stroke-width="1.05"/>
<rect x="357.22" y="412.98" width="5.1" height="5.1" fill="none" stroke="#111" stroke-width="1.05"/>
<rect x="357.22" y="430.14" width="5.1" height="5.1" fill="none" stroke="#111" stroke-width="1.05"/>
<rect x="359.29" y="426.96" width="5.1" height="5.1" fill="none" stroke="#111" stroke-width="1.05"/>
<rect x="367.59" y="384.36" width="5.1" height="5.1" fill="none" stroke="#111" stroke-width="1.05"/>
<rect x="367.59" y="403.44" width="5.1" height="5.1" fill="none" stroke="#111" stroke-width="1.05"/>
<rect x="377.96" y="365.80" width="5.1" height="5.1" fill="none" stroke="#111" stroke-width="1.05"/>
<rect x="377.96" y="371.65" width="5.1" height="5.1" fill="none" stroke="#111" stroke-width="1.05"/>
<rect x="380.03" y="356.39" width="5.1" height="5.1" fill="none" stroke="#111" stroke-width="1.05"/>
<rect x="382.10" y="385.63" width="5.1" height="5.1" fill="none" stroke="#111" stroke-width="1.05"/>
<rect x="392.47" y="352.95" width="5.1" height="5.1" fill="none" stroke="#111" stroke-width="1.05"/>
<rect x="398.69" y="359.18" width="5.1" height="5.1" fill="none" stroke="#111" stroke-width="1.05"/>
<rect x="411.14" y="355.75" width="5.1" height="5.1" fill="none" stroke="#111" stroke-width="1.05"/>
<rect x="429.80" y="338.58" width="5.1" height="5.1" fill="none" stroke="#111" stroke-width="1.05"/>
<rect x="436.02" y="338.58" width="5.1" height="5.1" fill="none" stroke="#111" stroke-width="1.05"/>
<rect x="460.91" y="338.58" width="5.1" height="5.1" fill="none" stroke="#111" stroke-width="1.05"/>
<rect x="494.09" y="357.02" width="5.1" height="5.1" fill="none" stroke="#111" stroke-width="1.05"/>
<rect x="358.65" y="313.15" width="5.1" height="5.1" fill="none" stroke="#111" stroke-width="1.05"/>
<path d="M361.20 326.10L363.95 331.18L358.44 331.18Z" fill="none" stroke="#111" stroke-width="1.05"/>
<text class="lg" x="368.7" y="319.00" textLength="80.7" lengthAdjust="spacingAndGlyphs">wt-RLuc/1013-YFP</text>
<text class="lg" x="368.7" y="332.20" textLength="86" lengthAdjust="spacingAndGlyphs">wt-RLuc/GBR2-YFP</text>
<text class="ax" x="432.6" y="507.7" text-anchor="middle" textLength="52.5" lengthAdjust="spacingAndGlyphs">YFP/RLuc</text>
<text class="ax" transform="translate(312.8,387.6) rotate(-90)" text-anchor="middle" textLength="122" lengthAdjust="spacingAndGlyphs">BRET (% of BRETmax)</text>
</g>
</svg></body></html>
